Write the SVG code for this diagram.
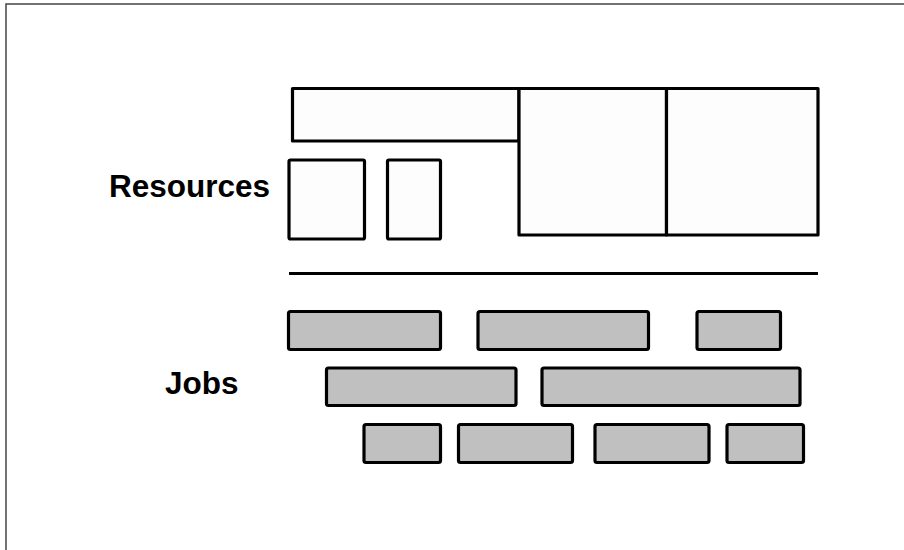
<svg xmlns="http://www.w3.org/2000/svg" width="904" height="550" viewBox="0 0 904 550">
<style>
.lbl{font-family:"Liberation Sans",Arial,sans-serif;font-weight:bold;font-size:31.5px;fill:#000}
.res{fill:#fdfdfd;stroke:#000;stroke-width:3.2;stroke-linejoin:round}
.job{fill:#c0c0c0;stroke:#000;stroke-width:3.2}
</style>
<rect x="0" y="0" width="904" height="550" fill="#fff"/>
<path d="M6 550 V4 H904" fill="none" stroke="#444" stroke-width="1.5"/>
<g id="label-resources"><text class="lbl" x="109" y="197">Resources</text></g>
<g id="label-jobs"><text class="lbl" x="165" y="394">Jobs</text></g>
<g id="res-top"><rect class="res" x="292.5" y="88.5" width="226.5" height="52.5"/></g>
<g id="res-small1"><rect class="res" x="289" y="160" width="75.5" height="79" rx="1.5"/></g>
<g id="res-small2"><rect class="res" x="387.5" y="160" width="53" height="79" rx="1.5"/></g>
<g id="res-big1"><rect class="res" x="519" y="88.5" width="147.5" height="146.5"/></g>
<g id="res-big2"><rect class="res" x="666.5" y="88.5" width="151.5" height="146.5"/></g>
<g id="connectors"><line x1="289" y1="273.5" x2="818" y2="273.5" stroke="#000" stroke-width="3.2"/></g>
<g id="job1"><rect class="job" x="288.5" y="311.5" width="152" height="38" rx="2"/></g>
<g id="job2"><rect class="job" x="478" y="311.5" width="170.5" height="38" rx="2"/></g>
<g id="job3"><rect class="job" x="697" y="311.5" width="83.5" height="38" rx="2"/></g>
<g id="job4"><rect class="job" x="326.5" y="368" width="189.5" height="37.5" rx="2"/></g>
<g id="job5"><rect class="job" x="542" y="368" width="258" height="37.5" rx="2"/></g>
<g id="job6"><rect class="job" x="364" y="424.5" width="76.5" height="38" rx="2"/></g>
<g id="job7"><rect class="job" x="458.5" y="424.5" width="114" height="38" rx="2"/></g>
<g id="job8"><rect class="job" x="595" y="424.5" width="114" height="38" rx="2"/></g>
<g id="job9"><rect class="job" x="727" y="424.5" width="76.5" height="38" rx="2"/></g>
</svg>
